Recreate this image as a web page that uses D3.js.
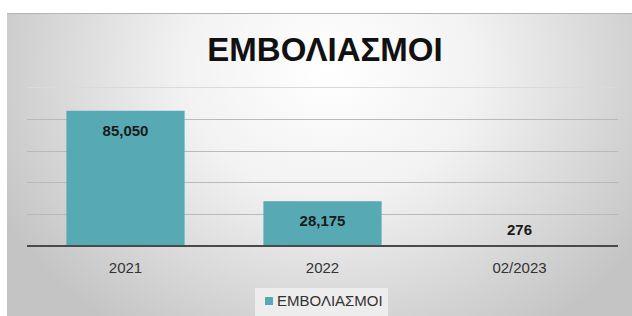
<!DOCTYPE html>
<html lang="el">
<head>
  <meta charset="UTF-8">
  <title>ΕΜΒΟΛΙΑΣΜΟΙ</title>
  <style>
    body, html {
      margin: 0;
      padding: 0;
      background-color: #ffffff;
    }
    #svg {
      display: block;
      font-family: "Liberation Sans", Arial, sans-serif;
    }
  </style>
</head>
<body>
  <svg id="svg" width="632" height="316"></svg>
  <script src="https://d3js.org/d3.v7.min.js"></script>
  <script>
    const categories = ['2021', '2022', '02/2023']
    const values = [85050, 28175, 276]
    const yTicks = [0, 20000, 40000, 60000, 80000, 100000]
    const seriesName = 'ΕΜΒΟΛΙΑΣΜΟΙ'
    const title = 'ΕΜΒΟΛΙΑΣΜΟΙ'

    const width = 632
    const height = 316
    const plotLeft = 27
    const plotRight = 618
    const baseY = 246
    const topY = 87
    const barColor = '#57aab4'

    const svg = d3.select('#svg')
    const defs = svg.append('defs')
    const grad = defs.append('radialGradient')
      .attr('id', 'bg')
      .attr('gradientUnits', 'userSpaceOnUse')
      .attr('cx', 330).attr('cy', 70).attr('r', 370)
      .attr('gradientTransform', 'translate(330,70) scale(1,0.85) translate(-330,-70)')
    grad.append('stop').attr('offset', '0%').attr('stop-color', '#ffffff')
    grad.append('stop').attr('offset', '40%').attr('stop-color', '#f2f2f2')
    grad.append('stop').attr('offset', '100%').attr('stop-color', '#c4c4c4')

    // panel
    svg.append('rect')
      .attr('x', 7).attr('y', 13)
      .attr('width', width - 7).attr('height', height - 13)
      .attr('fill', 'url(#bg)')
    svg.append('line')
      .attr('x1', 7).attr('x2', width)
      .attr('y1', 13.5).attr('y2', 13.5)
      .attr('stroke', '#b4b4b4')

    const xScale = d3.scaleBand()
      .domain(categories)
      .range([plotLeft, plotRight])
      .paddingInner(0.4)
      .paddingOuter(0.2)
    const yScale = d3.scaleLinear()
      .domain([0, 100000])
      .range([baseY, topY])

    // gridlines
    svg.append('g')
      .selectAll('line')
      .data(yTicks.slice(1))
      .enter()
      .append('line')
      .attr('x1', plotLeft)
      .attr('x2', plotRight)
      .attr('y1', d => Math.round(yScale(d)) + 0.5)
      .attr('y2', d => Math.round(yScale(d)) + 0.5)
      .attr('stroke', d => d === 100000 ? '#dadada' : '#b9b9b9')
      .attr('stroke-width', 1.2)

    // bars
    svg.append('g')
      .selectAll('rect')
      .data(values)
      .enter()
      .append('rect')
      .attr('x', (d, i) => xScale(categories[i]))
      .attr('y', d => yScale(d))
      .attr('width', xScale.bandwidth())
      .attr('height', d => baseY - yScale(d))
      .attr('fill', barColor)

    // baseline
    svg.append('line')
      .attr('x1', plotLeft).attr('x2', plotRight)
      .attr('y1', baseY).attr('y2', baseY)
      .attr('stroke', '#4a4a4a')
      .attr('stroke-width', 2)

    // value labels
    svg.append('g')
      .selectAll('text')
      .data(values)
      .enter()
      .append('text')
      .text(d => d3.format(',')(d))
      .attr('x', (d, i) => xScale(categories[i]) + xScale.bandwidth() / 2)
      .attr('y', d => (baseY - yScale(d)) > 30 ? yScale(d) + 25 : yScale(d) - 11)
      .attr('text-anchor', 'middle')
      .style('font-size', '15px')
      .style('font-weight', 'bold')
      .attr('fill', '#1a1a1a')

    // category axis labels
    svg.append('g')
      .selectAll('text')
      .data(categories)
      .enter()
      .append('text')
      .text(d => d)
      .attr('x', d => xScale(d) + xScale.bandwidth() / 2)
      .attr('y', 273)
      .attr('text-anchor', 'middle')
      .style('font-size', '15px')
      .attr('fill', '#333333')

    // title
    svg.append('text')
      .text(title)
      .attr('x', 325)
      .attr('y', 61)
      .attr('text-anchor', 'middle')
      .style('font-size', '33px')
      .style('font-weight', 'bold')
      .attr('fill', '#111111')

    // legend
    const legend = svg.append('g')
    legend.append('rect')
      .attr('x', 255).attr('y', 288)
      .attr('width', 133).attr('height', 28)
      .attr('fill', '#ededed')
    legend.append('rect')
      .attr('x', 265).attr('y', 297)
      .attr('width', 8).attr('height', 8)
      .attr('fill', barColor)
    legend.append('text')
      .text(seriesName)
      .attr('x', 277)
      .attr('y', 306)
      .style('font-size', '15px')
      .attr('fill', '#333333')
  </script>
</body>
</html>
